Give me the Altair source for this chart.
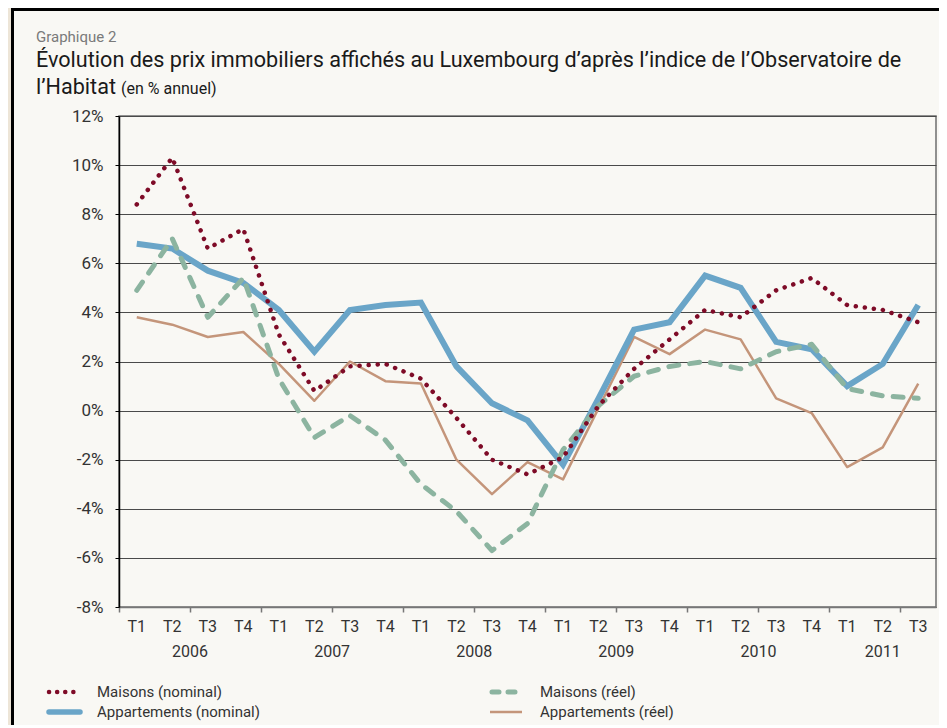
import altair as alt
import pandas as pd

# ---- data ----
quarters = ["T1", "T2", "T3", "T4"] * 5 + ["T1", "T2", "T3"]
years = [2006] * 4 + [2007] * 4 + [2008] * 4 + [2009] * 4 + [2010] * 4 + [2011] * 3

maisons_nominal = [8.4, 10.3, 6.6, 7.4, 3.1, 0.8, 1.8, 1.9, 1.3, -0.3, -2.0, -2.6,
                   -1.9, 0.2, 1.7, 2.9, 4.1, 3.8, 4.9, 5.4, 4.3, 4.1, 3.6]
appart_nominal = [6.8, 6.6, 5.7, 5.2, 4.1, 2.4, 4.1, 4.3, 4.4, 1.8, 0.3, -0.4,
                  -2.2, 0.5, 3.3, 3.6, 5.5, 5.0, 2.8, 2.5, 1.0, 1.9, 4.3]
maisons_reel = [4.9, 7.0, 3.8, 5.4, 1.3, -1.1, -0.2, -1.2, -3.0, -4.1, -5.7, -4.6,
                -1.6, 0.2, 1.4, 1.8, 2.0, 1.7, 2.4, 2.7, 0.9, 0.6, 0.5]
appart_reel = [3.8, 3.5, 3.0, 3.2, 1.9, 0.4, 2.0, 1.2, 1.1, -2.0, -3.4, -2.1,
               -2.8, 0.1, 3.0, 2.3, 3.3, 2.9, 0.5, -0.1, -2.3, -1.5, 1.1]

series_names = ["Maisons (nominal)", "Appartements (nominal)",
                "Maisons (réel)", "Appartements (réel)"]
y_ticks = [-8, -6, -4, -2, 0, 2, 4, 6, 8, 10, 12]

FONT = "Roboto"
C_MN = "#7e0b27"
C_AN = "#6aa5c8"
C_MR = "#8cb4a0"
C_AR = "#c4957a"
BG = "#f9f8f4"

# ---- tables ----
n = len(quarters)
rows = []
for name, vals in zip(series_names, [maisons_nominal, appart_nominal, maisons_reel, appart_reel]):
    for i in range(n):
        rows.append({"pos": i + 0.5, "q": quarters[i], "year": years[i], "series": name, "value": vals[i]})
df = pd.DataFrame(rows)

qdf = pd.DataFrame({"pos": [i + 0.5 for i in range(n)], "q": quarters, "year": years})
ydf = qdf.groupby("year", as_index=False)["pos"].mean()
ydf["label"] = ydf["year"].astype(str)
one = pd.DataFrame({"k": [0]})

W, H = 817, 491

xscale = alt.Scale(domain=[0, n], nice=False, zero=False)
yscale = alt.Scale(domain=[-8, 12], nice=False, zero=False)

xenc = alt.X("pos:Q", scale=xscale,
             axis=alt.Axis(values=list(range(n + 1)), labels=False, title=None, grid=False,
                           tickSize=5, tickColor="#777777", tickWidth=1.5,
                           domainColor="#777777", domainWidth=1.5))
yenc = alt.Y("value:Q", scale=yscale,
             axis=alt.Axis(values=y_ticks, title=None, labelExpr="datum.value + '%'",
                           labelFont=FONT, labelFontSize=17, labelColor="#333333",
                           labelPadding=12, tickSize=4, tickColor="#000000",
                           domainColor="#000000", domainWidth=1.5,
                           grid=True, gridColor="#4a4a4a", gridWidth=1.2))

base = alt.Chart(df)

def line(name, **kw):
    return base.transform_filter(alt.datum.series == name).mark_line(**kw).encode(x=xenc, y=yenc)

l_ar = line("Appartements (réel)", color=C_AR, strokeWidth=2.5, strokeJoin="round")
l_an = line("Appartements (nominal)", color=C_AN, strokeWidth=6, strokeJoin="miter")
l_mr = line("Maisons (réel)", color=C_MR, strokeWidth=5, strokeDash=[10, 11],
            strokeCap="round", strokeJoin="round")
l_mn = line("Maisons (nominal)", color=C_MN, strokeWidth=4.5, strokeDash=[0.1, 9],
            strokeCap="round", strokeJoin="round")

# quarter labels and year labels under the axis
q_text = alt.Chart(qdf).mark_text(font=FONT, fontSize=16, color="#333333", baseline="middle").encode(
    x=alt.X("pos:Q", scale=xscale), y=alt.value(H + 20), text="q:N")
y_text = alt.Chart(ydf).mark_text(font=FONT, fontSize=16, color="#333333", baseline="middle").encode(
    x=alt.X("pos:Q", scale=xscale), y=alt.value(H + 45), text="label:N")

# panel frame
frame_strip = alt.Chart(one).mark_rect(fill="#ede5d7").encode(
    x=alt.value(-111), x2=alt.value(-108), y=alt.value(-108), y2=alt.value(H + 121))
frame = alt.Chart(one).mark_rect(fill=None, stroke="#000000", strokeWidth=3).encode(
    x=alt.value(-106.5), x2=alt.value(W + 40), y=alt.value(-106.5), y2=alt.value(H + 140))

def txt(s, xx, yy, size, color="#1a1a1a"):
    return alt.Chart(one).mark_text(text=s, font=FONT, fontSize=size, color=color,
                                    align="left", baseline="middle").encode(
        x=alt.value(xx), y=alt.value(yy))

# titles
t0 = txt("Graphique 2", -83, -79, 15, "#7a7a7a")
t1 = txt("Évolution des prix immobiliers affichés au Luxembourg d’après l’indice de l’Observatoire de",
         -83, -55, 21.6)
t2 = txt("l’Habitat", -83, -28, 21.6)
t3 = txt("(en % annuel)", 2, -27, 16)

# legend
LY1, LY2 = H + 85, H + 105
def leg_line(x1, x2, yy, **kw):
    return alt.Chart(one).mark_rule(**kw).encode(x=alt.value(x1), x2=alt.value(x2), y=alt.value(yy))

legend = [
    leg_line(-70, -39, LY1, color=C_MN, strokeWidth=4.5, strokeDash=[0.1, 8], strokeCap="round"),
    txt(series_names[0], -22, LY1, 15, "#333333"),
    leg_line(-70, -39, LY2, color=C_AN, strokeWidth=5.5, strokeCap="round"),
    txt(series_names[1], -22, LY2, 15, "#333333"),
    leg_line(373, 402, LY1, color=C_MR, strokeWidth=5, strokeDash=[7, 9], strokeCap="round"),
    txt(series_names[2], 421, LY1, 15, "#333333"),
    leg_line(371, 403, LY2, color=C_AR, strokeWidth=2.5),
    txt(series_names[3], 421, LY2, 15, "#333333"),
]

chart = alt.layer(
    frame_strip, frame, l_ar, l_an, l_mr, l_mn, q_text, y_text, t0, t1, t2, t3, *legend
).properties(
    width=W, height=H,
    autosize=alt.AutoSizeParams(type="none"),
    padding={"left": 111, "top": 108, "right": 3, "bottom": 118},
    background=BG,
).configure_view(stroke="#6e6e6e", strokeWidth=1.5)

chart.save("out.html", embed_options={"renderer": "svg", "actions": False})
